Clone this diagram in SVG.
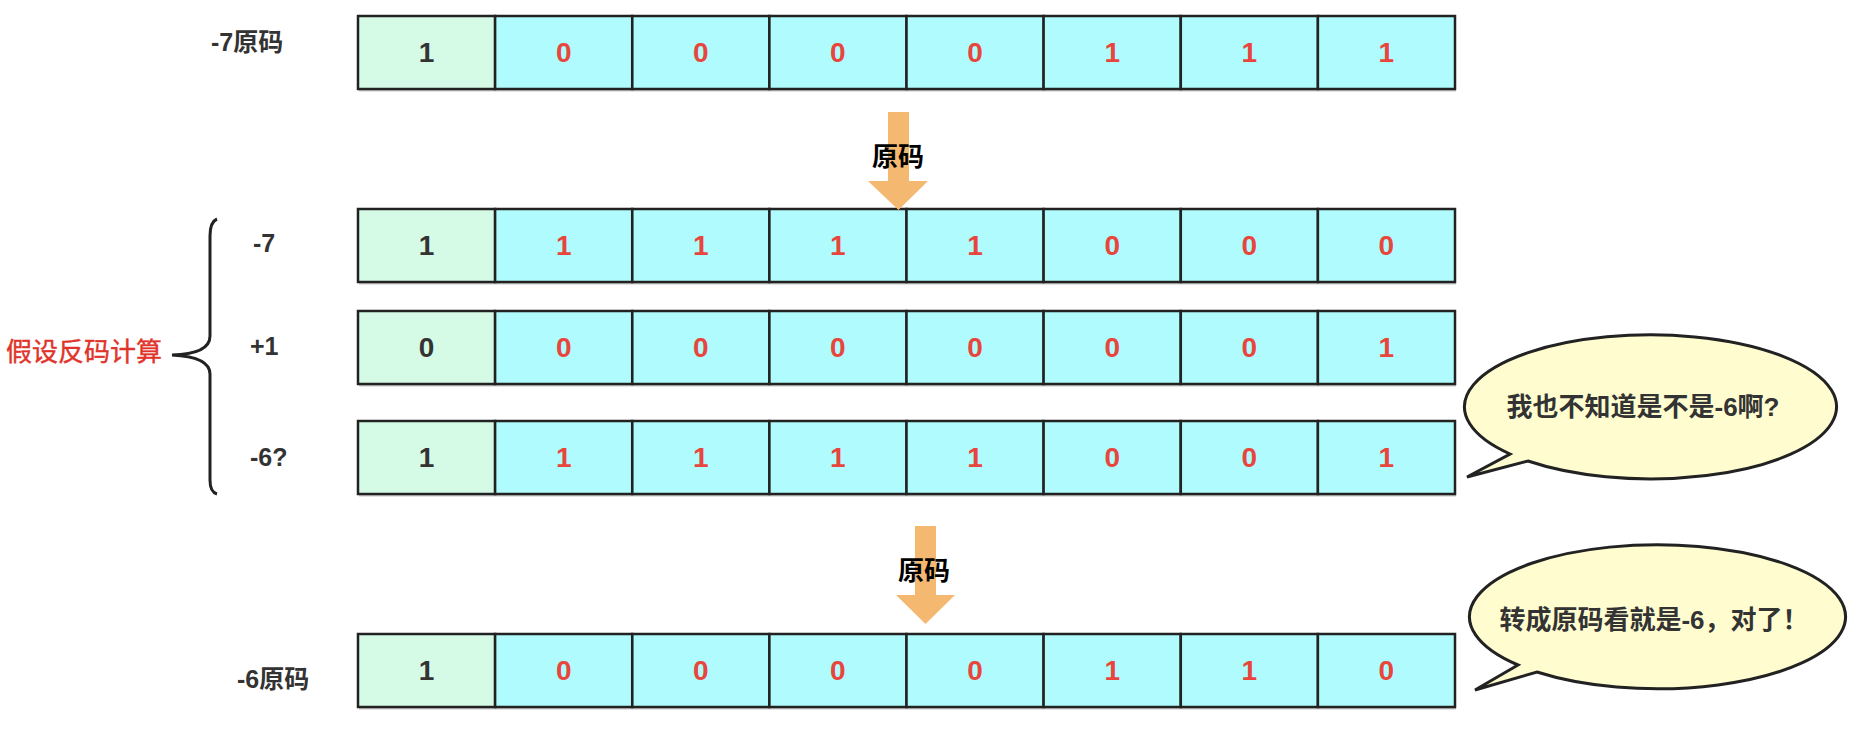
<svg xmlns="http://www.w3.org/2000/svg" width="1860" height="742" viewBox="0 0 1860 742">
<style>
  text { font-family: "Liberation Sans", "Noto Sans CJK SC", sans-serif; }
  .sign { fill: #d5fbe6; stroke: #222; stroke-width: 2.5; }
  .bit { fill: #b0fbfd; stroke: #222; stroke-width: 2.5; }
  .shadow { fill: #c8c8c8; }
  .d { font-size: 28px; font-weight: bold; text-anchor: middle; dominant-baseline: central; }
  .dk { fill: #333; }
  .rd { fill: #e8453c; }
  .lbl { font-size: 25px; font-weight: bold; fill: #333; dominant-baseline: central; }
  .arrow { fill: #f4b870; }
  .atxt { font-size: 26px; font-weight: bold; fill: #000; text-anchor: middle; dominant-baseline: central; }
  .bubble { fill: #fffdd0; stroke: #222; stroke-width: 3; stroke-linejoin: miter; }
  .btxt { font-size: 26px; font-weight: bold; fill: #333; text-anchor: middle; dominant-baseline: central; }
</style>
<rect width="1860" height="742" fill="#ffffff"/>

<!-- labels -->
<g id="labels">
  <text class="lbl" x="211" y="42">-7原码</text>
  <text class="lbl" x="253" y="243">-7</text>
  <text class="lbl" x="250" y="346">+1</text>
  <text class="lbl" x="250" y="457">-6?</text>
  <text class="lbl" x="237" y="679">-6原码</text>
  <text x="6" y="352" font-size="26" fill="#e0342b" stroke="#e0342b" stroke-width="0.4" dominant-baseline="central">假设反码计算</text>
  <path d="M217 219 Q210 222 210 236 L210 336 Q210 354 172 355 Q210 357 210 374 L210 480 Q210 492 217 494" fill="none" stroke="#222" stroke-width="3"/>
</g>

<!-- row 1: -7 原码 -->
<g id="row1">
  <rect class="shadow" x="359" y="18" width="1097" height="73.5"/>
  <rect class="sign" x="358" y="16" width="137.1" height="73"/>
  <rect class="bit" x="495.1" y="16" width="137.1" height="73"/>
  <rect class="bit" x="632.3" y="16" width="137.1" height="73"/>
  <rect class="bit" x="769.4" y="16" width="137.1" height="73"/>
  <rect class="bit" x="906.5" y="16" width="137.1" height="73"/>
  <rect class="bit" x="1043.6" y="16" width="137.1" height="73"/>
  <rect class="bit" x="1180.8" y="16" width="137.1" height="73"/>
  <rect class="bit" x="1317.9" y="16" width="137.1" height="73"/>
  <text class="d dk" x="426.6" y="52">1</text>
  <text class="d rd" x="563.7" y="52">0</text>
  <text class="d rd" x="700.8" y="52">0</text>
  <text class="d rd" x="837.9" y="52">0</text>
  <text class="d rd" x="975.1" y="52">0</text>
  <text class="d rd" x="1112.2" y="52">1</text>
  <text class="d rd" x="1249.3" y="52">1</text>
  <text class="d rd" x="1386.4" y="52">1</text>
</g>

<!-- row 2: -7 反码 -->
<g id="row2">
  <rect class="shadow" x="359" y="211" width="1097" height="73.5"/>
  <rect class="sign" x="358" y="209" width="137.1" height="73"/>
  <rect class="bit" x="495.1" y="209" width="137.1" height="73"/>
  <rect class="bit" x="632.3" y="209" width="137.1" height="73"/>
  <rect class="bit" x="769.4" y="209" width="137.1" height="73"/>
  <rect class="bit" x="906.5" y="209" width="137.1" height="73"/>
  <rect class="bit" x="1043.6" y="209" width="137.1" height="73"/>
  <rect class="bit" x="1180.8" y="209" width="137.1" height="73"/>
  <rect class="bit" x="1317.9" y="209" width="137.1" height="73"/>
  <text class="d dk" x="426.6" y="245">1</text>
  <text class="d rd" x="563.7" y="245">1</text>
  <text class="d rd" x="700.8" y="245">1</text>
  <text class="d rd" x="837.9" y="245">1</text>
  <text class="d rd" x="975.1" y="245">1</text>
  <text class="d rd" x="1112.2" y="245">0</text>
  <text class="d rd" x="1249.3" y="245">0</text>
  <text class="d rd" x="1386.4" y="245">0</text>
</g>

<!-- row 3: +1 -->
<g id="row3">
  <rect class="shadow" x="359" y="313" width="1097" height="73.5"/>
  <rect class="sign" x="358" y="311" width="137.1" height="73"/>
  <rect class="bit" x="495.1" y="311" width="137.1" height="73"/>
  <rect class="bit" x="632.3" y="311" width="137.1" height="73"/>
  <rect class="bit" x="769.4" y="311" width="137.1" height="73"/>
  <rect class="bit" x="906.5" y="311" width="137.1" height="73"/>
  <rect class="bit" x="1043.6" y="311" width="137.1" height="73"/>
  <rect class="bit" x="1180.8" y="311" width="137.1" height="73"/>
  <rect class="bit" x="1317.9" y="311" width="137.1" height="73"/>
  <text class="d dk" x="426.6" y="347">0</text>
  <text class="d rd" x="563.7" y="347">0</text>
  <text class="d rd" x="700.8" y="347">0</text>
  <text class="d rd" x="837.9" y="347">0</text>
  <text class="d rd" x="975.1" y="347">0</text>
  <text class="d rd" x="1112.2" y="347">0</text>
  <text class="d rd" x="1249.3" y="347">0</text>
  <text class="d rd" x="1386.4" y="347">1</text>
</g>

<!-- row 4: -6? -->
<g id="row4">
  <rect class="shadow" x="359" y="423" width="1097" height="73.5"/>
  <rect class="sign" x="358" y="421" width="137.1" height="73"/>
  <rect class="bit" x="495.1" y="421" width="137.1" height="73"/>
  <rect class="bit" x="632.3" y="421" width="137.1" height="73"/>
  <rect class="bit" x="769.4" y="421" width="137.1" height="73"/>
  <rect class="bit" x="906.5" y="421" width="137.1" height="73"/>
  <rect class="bit" x="1043.6" y="421" width="137.1" height="73"/>
  <rect class="bit" x="1180.8" y="421" width="137.1" height="73"/>
  <rect class="bit" x="1317.9" y="421" width="137.1" height="73"/>
  <text class="d dk" x="426.6" y="457">1</text>
  <text class="d rd" x="563.7" y="457">1</text>
  <text class="d rd" x="700.8" y="457">1</text>
  <text class="d rd" x="837.9" y="457">1</text>
  <text class="d rd" x="975.1" y="457">1</text>
  <text class="d rd" x="1112.2" y="457">0</text>
  <text class="d rd" x="1249.3" y="457">0</text>
  <text class="d rd" x="1386.4" y="457">1</text>
</g>

<!-- row 5: -6 原码 -->
<g id="row5">
  <rect class="shadow" x="359" y="636" width="1097" height="73.5"/>
  <rect class="sign" x="358" y="634" width="137.1" height="73"/>
  <rect class="bit" x="495.1" y="634" width="137.1" height="73"/>
  <rect class="bit" x="632.3" y="634" width="137.1" height="73"/>
  <rect class="bit" x="769.4" y="634" width="137.1" height="73"/>
  <rect class="bit" x="906.5" y="634" width="137.1" height="73"/>
  <rect class="bit" x="1043.6" y="634" width="137.1" height="73"/>
  <rect class="bit" x="1180.8" y="634" width="137.1" height="73"/>
  <rect class="bit" x="1317.9" y="634" width="137.1" height="73"/>
  <text class="d dk" x="426.6" y="670">1</text>
  <text class="d rd" x="563.7" y="670">0</text>
  <text class="d rd" x="700.8" y="670">0</text>
  <text class="d rd" x="837.9" y="670">0</text>
  <text class="d rd" x="975.1" y="670">0</text>
  <text class="d rd" x="1112.2" y="670">1</text>
  <text class="d rd" x="1249.3" y="670">1</text>
  <text class="d rd" x="1386.4" y="670">0</text>
</g>

<!-- connectors -->
<g id="connectors">
  <polygon class="arrow" points="888,112 909,112 909,181 928,181 898.5,210 868,181 888,181"/>
  <text class="atxt" x="898" y="157">原码</text>
  <polygon class="arrow" points="915,526 936,526 936,595 955,595 925.5,624 896,595 915,595"/>
  <text class="atxt" x="924" y="571">原码</text>
</g>

<!-- speech bubbles -->
<g id="bubble1">
  <path class="bubble" d="M1528 461 A186 72 0 1 0 1510 454 L1467 477 Z"/>
  <text class="btxt" x="1643" y="407">我也不知道是不是-6啊?</text>
</g>
<g id="bubble2">
  <path class="bubble" d="M1537 672 A188 72 0 1 0 1518 665 L1475 690 Z"/>
  <text class="btxt" x="1654" y="620">转成原码看就是-6，对了！</text>
</g>
</svg>
